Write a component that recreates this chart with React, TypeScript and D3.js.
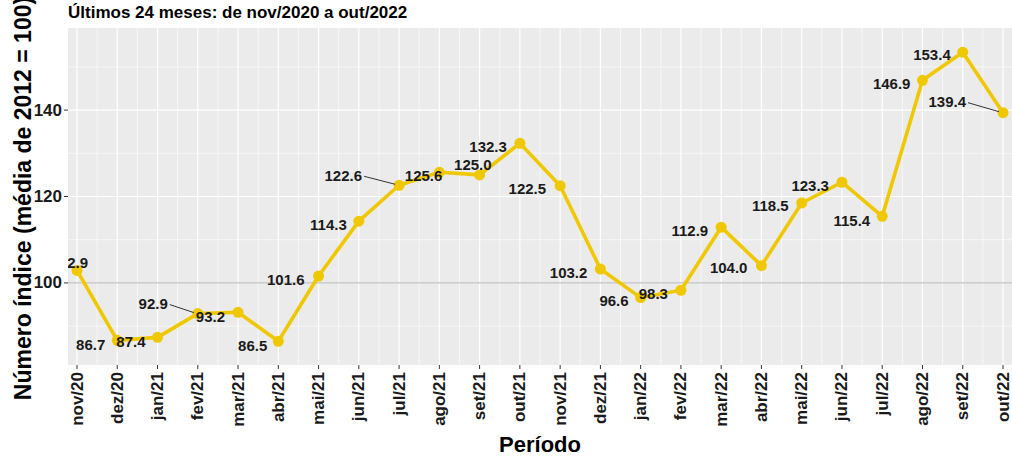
import React from "react";
import * as d3 from "d3";

const months = ["nov/20","dez/20","jan/21","fev/21","mar/21","abr/21","mai/21","jun/21","jul/21","ago/21","set/21","out/21","nov/21","dez/21","jan/22","fev/22","mar/22","abr/22","mai/22","jun/22","jul/22","ago/22","set/22","out/22"];
const values = [102.9,86.7,87.4,92.9,93.2,86.5,101.6,114.3,122.6,125.6,125.0,132.3,122.5,103.2,96.6,98.3,112.9,104.0,118.5,123.3,115.4,146.9,153.4,139.4];
const majorTicks = [100, 120, 140];
const minorTicks = [90, 110, 130, 150];
// label placement (pixel offsets of the label's right edge / centre from the point), like ggrepel output
const labelDx = [11,-12,-12,-30,-13,-11,-14,-12,-37,3,12,-13,-14,-13,-12,-13,-13,-14,-13,-13,-12,-12,-12,-37];
const labelDy = [-8,4,4,-10,4,4,4,3,-10,3,-10,3,3,3,3,3,3,2,3,3,4,3,2,-11];
const labelSegment = [false,false,false,true,false,false,false,false,true,false,false,false,false,false,false,false,false,false,false,false,false,false,false,true];

const W = 1012, H = 456;
const panel = { left: 68, right: 1012, top: 28, bottom: 365 };
const FONT = "'Liberation Sans', Arial, Helvetica, sans-serif";
const GOLD = "#F0C800";

export default function App() {
  const x = d3.scalePoint<string>().domain(months).range([77, 1003]);
  const y = d3.scaleLinear().domain([81, 159]).range([panel.bottom, panel.top]);
  const step = x.step();
  const line = d3.line<number>().x((_, i) => x(months[i])!).y((v) => y(v));
  const fmt = d3.format(".1f");

  return (
    <svg width={W} height={H} style={{ position: "absolute", left: 0, top: 0, fontFamily: FONT }}>
      <defs>
        <clipPath id="pclip">
          <rect x={panel.left} y={panel.top} width={panel.right - panel.left} height={panel.bottom - panel.top} />
        </clipPath>
      </defs>
      <rect width={W} height={H} fill="#fff" />
      <text x={68} y={18} fontSize={17} fontWeight="bold" fill="#000">Últimos 24 meses: de nov/2020 a out/2022</text>
      <rect x={panel.left} y={panel.top} width={panel.right - panel.left} height={panel.bottom - panel.top} fill="#EBEBEB" />
      <g clipPath="url(#pclip)">
        {minorTicks.map((t) => (
          <line key={"ym" + t} x1={panel.left} x2={panel.right} y1={y(t)} y2={y(t)} stroke="#fff" strokeWidth={0.6} />
        ))}
        {months.slice(0, -1).map((m) => (
          <line key={"xm" + m} x1={x(m)! + step / 2} x2={x(m)! + step / 2} y1={panel.top} y2={panel.bottom} stroke="#fff" strokeWidth={0.6} />
        ))}
        {majorTicks.map((t) => (
          <line key={"yM" + t} x1={panel.left} x2={panel.right} y1={y(t)} y2={y(t)} stroke="#fff" strokeWidth={1.2} />
        ))}
        {months.map((m) => (
          <line key={"xM" + m} x1={x(m)} x2={x(m)} y1={panel.top} y2={panel.bottom} stroke="#fff" strokeWidth={1.2} />
        ))}
        <line x1={panel.left} x2={panel.right} y1={y(100)} y2={y(100)} stroke="#BEBEBE" strokeWidth={1.2} />
        <path d={line(values)!} fill="none" stroke={GOLD} strokeWidth={3.6} strokeLinejoin="round" />
        {values.map((v, i) => (
          <circle key={"p" + i} cx={x(months[i])} cy={y(v)} r={5.5} fill={GOLD} />
        ))}
        {values.map((v, i) => {
          const px = x(months[i])!;
          const py = y(v);
          const lx = px + labelDx[i];
          const ly = py + labelDy[i];
          return (
            <g key={"l" + i}>
              {labelSegment[i] && (
                <line x1={lx + 2} y1={ly + 1} x2={px - 4} y2={py - 1} stroke="#333" strokeWidth={1} />
              )}
              <text x={lx} y={ly} textAnchor="end" dominantBaseline="central" fontSize={15} fontWeight="bold" fill="#1a1a1a">
                {fmt(v)}
              </text>
            </g>
          );
        })}
      </g>
      {majorTicks.map((t) => (
        <g key={"yt" + t}>
          <line x1={64} x2={68} y1={y(t)} y2={y(t)} stroke="#333" strokeWidth={1} />
          <text x={62} y={y(t)} textAnchor="end" dominantBaseline="central" fontSize={17} fontWeight="bold" fill="#1a1a1a">{t}</text>
        </g>
      ))}
      {months.map((m) => (
        <g key={"xt" + m}>
          <line x1={x(m)} x2={x(m)} y1={panel.bottom} y2={panel.bottom + 4} stroke="#333" strokeWidth={1} />
          <text transform={`translate(${x(m)},${panel.bottom + 7}) rotate(-90)`} textAnchor="end" dominantBaseline="central" fontSize={17} fontWeight="bold" fill="#1a1a1a">{m}</text>
        </g>
      ))}
      <text transform={`translate(31,${(panel.top + panel.bottom) / 2 + 2}) rotate(-90)`} textAnchor="middle" fontSize={23} fontWeight="bold" fill="#000">Número índice (média de 2012 = 100)</text>
      <text x={(panel.left + panel.right) / 2} y={452} textAnchor="middle" fontSize={22} fontWeight="bold" fill="#000">Período</text>
      <text x={1010} y={467} textAnchor="end" fontSize={14} fontWeight="bold" fill="#aaa">Fonte: IBGE, Pesquisa Industrial Mensal – Produção Física</text>
    </svg>
  );
}
